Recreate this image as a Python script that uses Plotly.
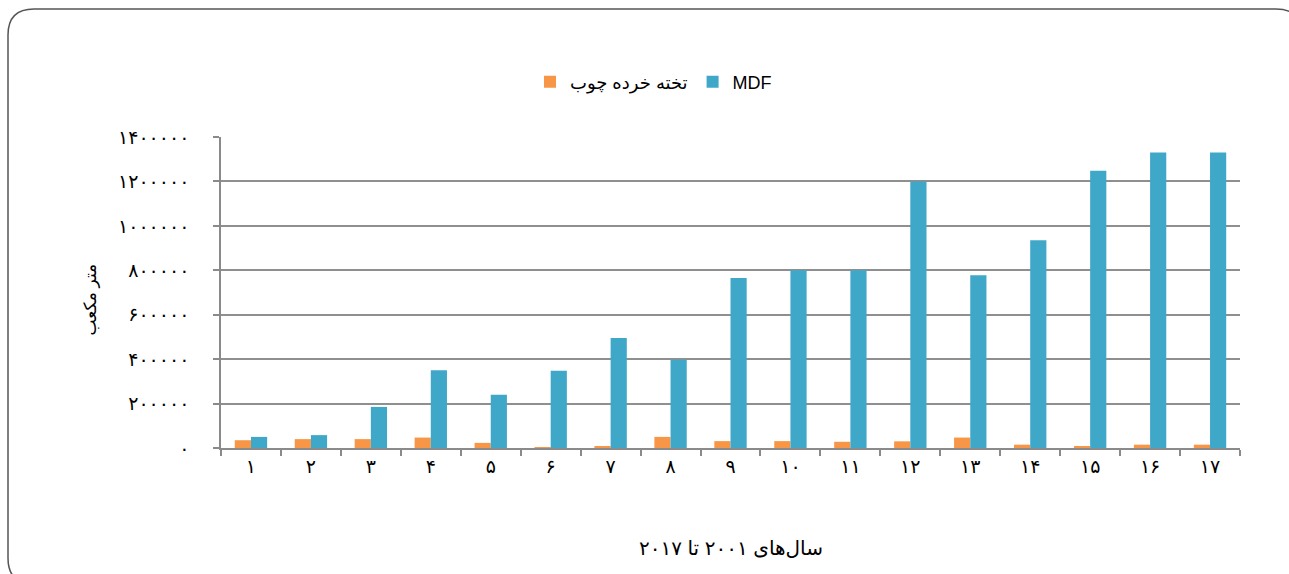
import plotly.graph_objects as go

# Production volumes (cubic metres), years 2001-2017
years = list(range(1, 18))
fa_digits = "۰۱۲۳۴۵۶۷۸۹"


def to_fa(n):
    return "".join(fa_digits[int(c)] for c in str(n))


year_labels = [to_fa(y) for y in years]
particleboard = [35000, 40000, 40000, 47000, 23000, 1000, 5000, 50000, 31000,
                 31000, 28000, 30000, 47000, 15000, 5000, 15000, 15000]
mdf = [50000, 58000, 185000, 350000, 240000, 348000, 495000, 397000, 765000,
       800000, 800000, 1200000, 778000, 935000, 1248000, 1330000, 1330000]
y_ticks = list(range(0, 1400001, 200000))
y_tick_labels = [to_fa(v) for v in y_ticks]

W, H = 1289, 574
L, R, T, B = 221, 1240, 137, 448   # plot area in pixels
FONT = "Liberation Sans, DejaVu Sans, sans-serif"


def px(x):
    return (x - L) / (R - L)


def py(y):
    return (B - y) / (B - T)


fig = go.Figure()
fig.add_trace(go.Bar(x=year_labels, y=particleboard, name="تخته خرده چوب",
                     marker=dict(color="#F79646", line=dict(width=0))))
fig.add_trace(go.Bar(x=year_labels, y=mdf, name="MDF",
                     marker=dict(color="#3FA8C8", line=dict(width=0))))

# rounded frame around the whole chart
r = 26
x0, y0, x1, y1 = 8, 9, 1302, 584
path = (f"M {px(x0)},{py(y0 + r)} Q {px(x0)},{py(y0)} {px(x0 + r)},{py(y0)} "
        f"L {px(x1 - r)},{py(y0)} Q {px(x1)},{py(y0)} {px(x1)},{py(y0 + r)} "
        f"L {px(x1)},{py(y1 - r)} Q {px(x1)},{py(y1)} {px(x1 - r)},{py(y1)} "
        f"L {px(x0 + r)},{py(y1)} Q {px(x0)},{py(y1)} {px(x0)},{py(y1 - r)} Z")

fig.update_layout(
    width=W, height=H,
    margin=dict(l=L, r=W - R, t=T, b=H - B, pad=0),
    paper_bgcolor="white", plot_bgcolor="white",
    barmode="group", bargap=0.46, bargroupgap=0,
    font=dict(family=FONT, color="black"),
    showlegend=True,
    legend=dict(orientation="h", x=px(530), y=py(82), xanchor="left",
                yanchor="middle", font=dict(size=18, family=FONT),
                itemwidth=30, bgcolor="rgba(0,0,0,0)"),
    shapes=[dict(type="path", xref="paper", yref="paper", path=path,
                 line=dict(color="#555555", width=1.5), layer="below")],
    annotations=[
        dict(text="سال‌های ۲۰۰۱ تا ۲۰۱۷", xref="paper", yref="paper",
             x=px(731), y=py(548), yanchor="middle", showarrow=False,
             font=dict(size=20, family=FONT)),
        dict(text="متر مکعب", xref="paper", yref="paper", textangle=-90,
             x=px(78), y=py(300), showarrow=False,
             font=dict(size=17, family=FONT)),
    ],
)
fig.update_xaxes(
    type="category", showline=True, linecolor="#8a8a8a", linewidth=1.5,
    ticks="outside", tickson="boundaries", ticklen=6, tickcolor="#8a8a8a",
    tickwidth=1.5, tickfont=dict(size=19, family=FONT), showgrid=False,
    ticklabelstandoff=0,
)
fig.update_yaxes(
    range=[0, 1400000], tickvals=y_ticks, ticktext=y_tick_labels,
    showline=True, linecolor="#8a8a8a", linewidth=1.5,
    ticks="outside", ticklen=6, tickcolor="#8a8a8a", tickwidth=1.5,
    showgrid=True, gridcolor="#8f8f8f", gridwidth=1.5,
    tickfont=dict(size=19, family=FONT), ticklabelstandoff=20,
    zeroline=False,
)

fig.write_html("out.html")
